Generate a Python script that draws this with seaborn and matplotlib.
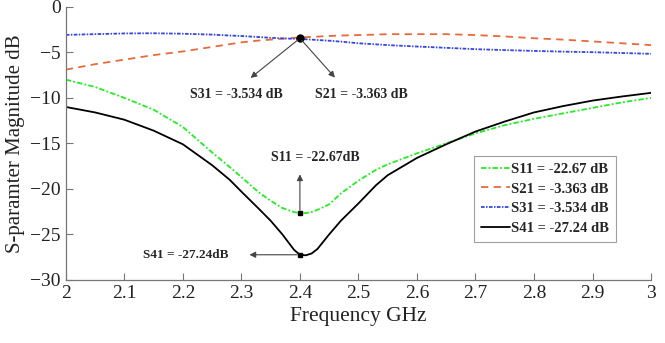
import numpy as np
import pandas as pd
import seaborn as sns
import matplotlib.pyplot as plt

# Frequency points (GHz)
freq = [2.0, 2.05, 2.1, 2.15, 2.2, 2.25, 2.28, 2.3, 2.33, 2.35, 2.37, 2.39, 2.4, 2.41,
        2.42, 2.43, 2.45, 2.47, 2.5, 2.53, 2.55, 2.6, 2.65, 2.7, 2.75, 2.8, 2.85, 2.9,
        2.95, 3.0]

# S-parameter magnitudes (dB)
s11 = [-8.0, -8.8, -10.0, -11.3, -13.2, -16.0, -17.6, -18.7, -20.4, -21.3, -22.1, -22.55,
       -22.67, -22.66, -22.55, -22.3, -21.7, -20.5, -19.1, -17.9, -17.3, -16.1, -15.0, -13.9,
       -13.0, -12.3, -11.7, -11.1, -10.5, -10.0]
s21 = [-6.9, -6.3, -5.8, -5.3, -4.9, -4.4, -4.1, -3.9, -3.7, -3.6, -3.5, -3.4,
       -3.363, -3.33, -3.3, -3.27, -3.2, -3.15, -3.1, -3.05, -3.0, -3.0, -3.0, -3.1,
       -3.25, -3.45, -3.6, -3.8, -4.0, -4.2]
s31 = [-3.08, -3.0, -2.92, -2.9, -2.95, -3.05, -3.15, -3.2, -3.32, -3.4, -3.46, -3.51,
       -3.534, -3.56, -3.6, -3.64, -3.72, -3.82, -4.0, -4.12, -4.2, -4.36, -4.5, -4.65,
       -4.75, -4.84, -4.92, -4.98, -5.07, -5.16]
s41 = [-11.0, -11.6, -12.4, -13.6, -15.1, -17.4, -19.0, -20.3, -22.2, -23.5, -25.0, -26.7,
       -27.24, -27.3, -27.1, -26.6, -25.0, -23.5, -21.6, -19.6, -18.5, -16.6, -15.1, -13.7,
       -12.6, -11.6, -10.9, -10.3, -9.85, -9.45]

labels = ['S11 = -22.67 dB', 'S21 = -3.363 dB', 'S31 = -3.534 dB', 'S41 = -27.24 dB']
colors = ['#22ee22', '#e8693c', '#3344ee', 'black']
styles = [(0, (3, 1.2, 1, 1.2)), (0, (4, 3)), (0, (2, 0.8, 0.8, 0.8)), '-']

sns.set_style('white')
plt.rcParams['font.family'] = ['Liberation Serif', 'DejaVu Serif']

fig, ax = plt.subplots(figsize=(6.65, 3.43), dpi=100)
fig.subplots_adjust(left=0.099, right=0.979, bottom=0.184, top=0.98)

for vals, lab, c, ls in zip([s11, s21, s31, s41], labels, colors, styles):
    df = pd.DataFrame({'f': freq, 'db': vals})
    sns.lineplot(data=df, x='f', y='db', ax=ax, color=c, label=lab, linewidth=1.3,
                 linestyle=ls)

ax.set_xlim(2, 3)
ax.set_ylim(-30, 0)
ax.set_xticks(np.arange(2, 3.01, 0.1))
ax.set_xticklabels(['2', '2.1', '2.2', '2.3', '2.4', '2.5', '2.6', '2.7', '2.8', '2.9', '3'])
ax.set_yticks([0, -5, -10, -15, -20, -25, -30])
ax.tick_params(direction='in', length=5, labelsize=14, colors='#777777',
               bottom=True, left=True, width=0.8)
for lbl in ax.get_xticklabels() + ax.get_yticklabels():
    lbl.set_color('#222222')
sns.despine(ax=ax)
for s in ['left', 'bottom']:
    ax.spines[s].set_color('#777777')
    ax.spines[s].set_linewidth(0.9)
ax.set_xlabel('Frequency GHz', fontsize=15.5, color='#222222', labelpad=4)
ax.set_ylabel('S-paramter Magnitude dB', fontsize=15, color='#222222')

# markers and annotations
ax.plot(2.4, -3.45, 'o', color='black', markersize=5)
ax.plot(2.4, -22.67, 's', color='black', markersize=3.5)
ax.plot(2.4, -27.24, 's', color='black', markersize=3.5)
arr = dict(arrowstyle='-|>', color='#444444', lw=0.8, mutation_scale=9)
ax.annotate('', xy=(2.312, -8.0), xytext=(2.4, -3.45), arrowprops=arr)
ax.annotate('', xy=(2.463, -8.0), xytext=(2.4, -3.45), arrowprops=arr)
ax.text(2.291, -9.6, 'S31 = -3.534 dB', ha='center', va='center', fontsize=10, fontweight='bold')
ax.text(2.505, -9.6, 'S21 = -3.363 dB', ha='center', va='center', fontsize=10, fontweight='bold')
ax.annotate('', xy=(2.4, -18.1), xytext=(2.4, -22.67), arrowprops=arr)
ax.text(2.426, -16.6, 'S11 = -22.67dB', ha='center', va='center', fontsize=10, fontweight='bold')
ax.annotate('', xy=(2.309, -27.24), xytext=(2.4, -27.24), arrowprops=arr)
ax.text(2.205, -27.24, 'S41 = -27.24dB', ha='center', va='center', fontsize=9.5, fontweight='bold')

leg = ax.legend(loc='lower right', bbox_to_anchor=(0.94, 0.14), borderaxespad=0,
                prop={'weight': 'bold', 'size': 10.5}, frameon=True, fancybox=False,
                handlelength=2.0, handletextpad=0.1, borderpad=0.45, labelspacing=0.45)
leg.get_frame().set_edgecolor('#888888')
leg.get_frame().set_linewidth(0.8)

fig.savefig('out.png', dpi=100)
